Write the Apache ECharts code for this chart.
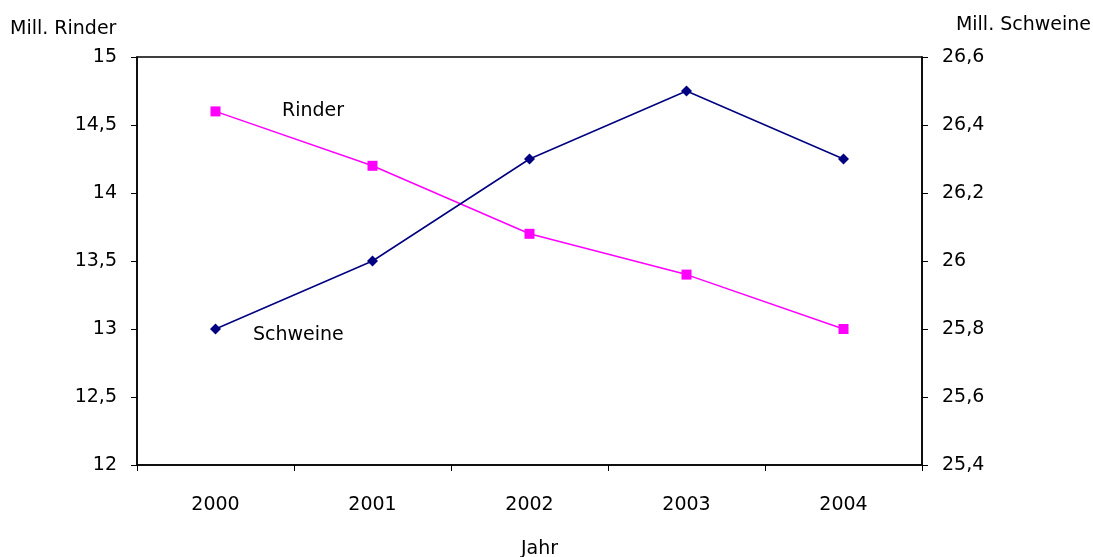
<!DOCTYPE html>
<html>
<head>
<meta charset="utf-8">
<script src="https://cdn.jsdelivr.net/npm/echarts@6/dist/echarts.min.js"></script>
<style>
  html, body { margin: 0; padding: 0; background: #fff; }
  #chart { width: 1093px; height: 557px; }
</style>
</head>
<body>
<div id="chart"></div>
<script>
const years = ["2000", "2001", "2002", "2003", "2004"];
const rinder = [14.6, 14.2, 13.7, 13.4, 13.0];
const schweine = [25.8, 26.0, 26.3, 26.5, 26.3];

const font = "'DejaVu Sans', sans-serif";
const fs = 19;
const fmt = v => String(Math.round(v * 10) / 10).replace(".", ",");

const chart = echarts.init(document.getElementById("chart"));
chart.setOption({
  animation: false,
  textStyle: { fontFamily: font, color: "#000" },
  grid: { left: 137, right: 171, top: 57, bottom: 92, show: true, borderColor: "#000", borderWidth: 1.5 },
  xAxis: {
    type: "category",
    data: years,
    boundaryGap: true,
    axisLine: { lineStyle: { color: "#000", width: 1.5 } },
    axisTick: { show: true, length: 6, lineStyle: { color: "#000" } },
    axisLabel: { color: "#000", fontSize: fs, margin: 31, fontFamily: font }
  },
  yAxis: [
    {
      type: "value", min: 12, max: 15, interval: 0.5, position: "left",
      axisLine: { show: true, lineStyle: { color: "#000", width: 1.5 } },
      axisTick: { show: true, length: 6, lineStyle: { color: "#000" } },
      splitLine: { show: false },
      axisLabel: { color: "#000", fontSize: fs, margin: 20, padding: [6, 0, 0, 0], formatter: fmt, fontFamily: font }
    },
    {
      type: "value", min: 25.4, max: 26.6, interval: 0.2, position: "right",
      axisLine: { show: true, lineStyle: { color: "#000", width: 1.5 } },
      axisTick: { show: true, length: 6, lineStyle: { color: "#000" } },
      splitLine: { show: false },
      axisLabel: { color: "#000", fontSize: fs, margin: 20, padding: [6, 0, 0, 0], formatter: fmt, fontFamily: font }
    }
  ],
  series: [
    {
      name: "Rinder", type: "line", yAxisIndex: 0, data: rinder,
      symbol: "rect", symbolSize: 10,
      lineStyle: { color: "#ff00ff", width: 1.5 },
      itemStyle: { color: "#ff00ff" }
    },
    {
      name: "Schweine", type: "line", yAxisIndex: 1, data: schweine,
      symbol: "diamond", symbolSize: 11,
      lineStyle: { color: "#000080", width: 1.5 },
      itemStyle: { color: "#000080" }
    }
  ],
  graphic: [
    { type: "text", left: 10, top: 20, style: { text: "Mill. Rinder", font: fs + "px " + font, fill: "#000" } },
    { type: "text", right: 2, top: 16, style: { text: "Mill. Schweine", font: fs + "px " + font, fill: "#000" } },
    { type: "text", left: 521, top: 540, style: { text: "Jahr", font: fs + "px " + font, fill: "#000" } },
    { type: "text", left: 282, top: 102, style: { text: "Rinder", font: fs + "px " + font, fill: "#000" } },
    { type: "text", left: 253, top: 326, style: { text: "Schweine", font: fs + "px " + font, fill: "#000" } }
  ]
});
</script>
</body>
</html>
